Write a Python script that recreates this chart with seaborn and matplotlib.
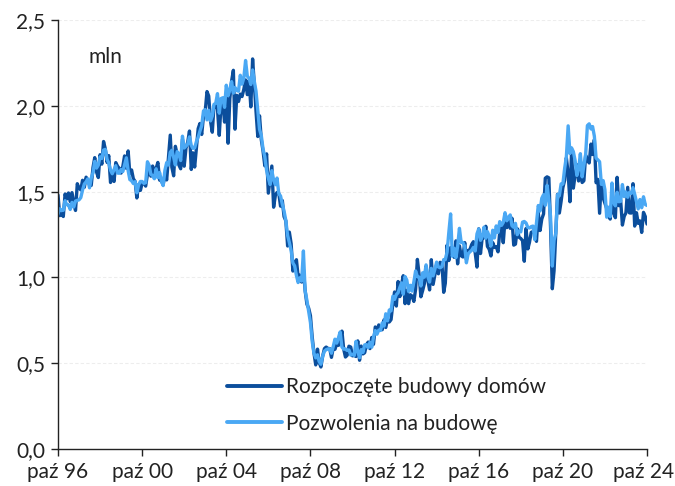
import numpy as np
import pandas as pd
import matplotlib
matplotlib.use("Agg")
import matplotlib.pyplot as plt
import matplotlib.transforms as mtransforms
import seaborn as sns

# Monthly data, Oct 1996 - Oct 2024, in millions (SAAR)
start_month = "1996-10-01"

starts = [
    1.480, 1.360, 1.370,
    1.355, 1.486, 1.457, 1.492, 1.442, 1.494, 1.437, 1.390, 1.546, 1.520, 1.510, 1.566,
    1.525, 1.584, 1.567, 1.540, 1.536, 1.641, 1.698, 1.614, 1.582, 1.715, 1.660, 1.792,
    1.748, 1.670, 1.710, 1.553, 1.611, 1.559, 1.669, 1.648, 1.635, 1.608, 1.648, 1.708,
    1.636, 1.737, 1.604, 1.626, 1.575, 1.559, 1.463, 1.541, 1.507, 1.549, 1.551, 1.532,
    1.600, 1.625, 1.590, 1.649, 1.605, 1.636, 1.670, 1.567, 1.562, 1.540, 1.602, 1.568,
    1.698, 1.829, 1.642, 1.592, 1.764, 1.717, 1.655, 1.633, 1.804, 1.648, 1.753, 1.788,
    1.853, 1.629, 1.726, 1.643, 1.751, 1.867, 1.897, 1.833, 1.939, 1.967, 2.083, 2.057,
    1.911, 1.846, 1.998, 2.003, 1.981, 1.828, 2.002, 2.024, 1.905, 2.072, 1.782, 2.042,
    2.144, 2.207, 1.864, 2.061, 2.025, 2.068, 2.054, 2.095, 2.151, 2.065, 2.147, 1.994,
    2.273, 2.119, 1.969, 1.821, 1.942, 1.802, 1.737, 1.650, 1.720, 1.491, 1.570, 1.649,
    1.409, 1.480, 1.495, 1.490, 1.415, 1.448, 1.354, 1.330, 1.183, 1.264, 1.197, 1.037,
    1.084, 1.103, 1.005, 1.013, 0.973, 1.046, 0.923, 0.844, 0.820, 0.777, 0.652, 0.560,
    0.490, 0.582, 0.505, 0.478, 0.540, 0.585, 0.594, 0.586, 0.585, 0.534, 0.588, 0.581,
    0.614, 0.604, 0.636, 0.687, 0.583, 0.536, 0.546, 0.599, 0.594, 0.543, 0.545, 0.539,
    0.630, 0.517, 0.600, 0.554, 0.561, 0.608, 0.623, 0.585, 0.650, 0.610, 0.711, 0.694,
    0.723, 0.704, 0.695, 0.753, 0.708, 0.757, 0.740, 0.754, 0.847, 0.915, 0.833, 0.976,
    0.888, 0.962, 1.010, 0.847, 0.925, 0.847, 0.899, 0.891, 0.860, 0.931, 1.105, 1.016,
    0.887, 0.924, 0.962, 1.065, 0.984, 0.927, 1.103, 0.959, 1.014, 1.070, 1.021, 1.088,
    1.083, 0.913, 0.966, 1.188, 1.098, 1.174, 1.160, 1.117, 1.213, 1.079, 1.184, 1.126,
    1.119, 1.203, 1.104, 1.157, 1.162, 1.192, 1.208, 1.143, 1.060, 1.283, 1.139, 1.232,
    1.231, 1.298, 1.181, 1.164, 1.125, 1.203, 1.175, 1.179, 1.149, 1.264, 1.303, 1.202,
    1.336, 1.290, 1.327, 1.286, 1.345, 1.188, 1.194, 1.284, 1.234, 1.227, 1.214, 1.094,
    1.285, 1.166, 1.204, 1.263, 1.267, 1.256, 1.210, 1.377, 1.273, 1.340, 1.370, 1.578,
    1.586, 1.580, 1.297, 0.934, 1.038, 1.261, 1.485, 1.375, 1.444, 1.523, 1.566, 1.697,
    1.604, 1.441, 1.733, 1.520, 1.594, 1.657, 1.562, 1.616, 1.553, 1.563, 1.712, 1.684,
    1.667, 1.777, 1.716, 1.803, 1.552, 1.571, 1.374, 1.566, 1.463, 1.432, 1.401, 1.357,
    1.340, 1.436, 1.380, 1.348, 1.583, 1.418, 1.451, 1.305, 1.356, 1.376, 1.525, 1.376,
    1.375, 1.546, 1.299, 1.377, 1.315, 1.329, 1.262, 1.379, 1.355, 1.311,
]

permits = [
    1.370, 1.400, 1.390,
    1.391, 1.447, 1.424, 1.423, 1.396, 1.437, 1.410, 1.445, 1.449, 1.452, 1.465, 1.509,
    1.544, 1.557, 1.574, 1.522, 1.579, 1.610, 1.676, 1.637, 1.655, 1.702, 1.693, 1.742,
    1.746, 1.687, 1.667, 1.625, 1.604, 1.628, 1.651, 1.608, 1.607, 1.629, 1.617, 1.657,
    1.697, 1.622, 1.570, 1.563, 1.547, 1.558, 1.493, 1.540, 1.559, 1.559, 1.548, 1.552,
    1.674, 1.652, 1.601, 1.594, 1.575, 1.633, 1.581, 1.611, 1.560, 1.535, 1.625, 1.669,
    1.655, 1.729, 1.741, 1.700, 1.655, 1.733, 1.720, 1.681, 1.823, 1.754, 1.765, 1.776,
    1.819, 1.769, 1.752, 1.755, 1.791, 1.817, 1.852, 1.884, 1.970, 1.978, 1.918, 1.974,
    1.912, 1.941, 2.008, 2.015, 2.071, 1.957, 2.042, 2.047, 1.991, 2.120, 2.059, 2.091,
    2.141, 2.074, 2.107, 2.089, 2.085, 2.178, 2.126, 2.161, 2.264, 2.173, 2.160, 2.124,
    2.209, 2.140, 2.086, 1.971, 1.863, 1.827, 1.749, 1.703, 1.623, 1.577, 1.541, 1.622,
    1.568, 1.540, 1.579, 1.487, 1.475, 1.426, 1.387, 1.331, 1.244, 1.203, 1.156, 1.085,
    1.067, 1.011, 0.970, 0.998, 0.979, 1.154, 0.922, 0.866, 0.802, 0.737, 0.626, 0.559,
    0.531, 0.549, 0.510, 0.494, 0.540, 0.570, 0.579, 0.583, 0.584, 0.558, 0.597, 0.640,
    0.617, 0.650, 0.682, 0.594, 0.582, 0.583, 0.575, 0.577, 0.547, 0.552, 0.545, 0.627,
    0.567, 0.532, 0.579, 0.563, 0.607, 0.608, 0.590, 0.622, 0.593, 0.652, 0.690, 0.669,
    0.693, 0.691, 0.735, 0.716, 0.788, 0.747, 0.810, 0.805, 0.890, 0.872, 0.900, 0.911,
    0.942, 0.968, 0.902, 1.005, 0.985, 0.918, 0.954, 0.920, 0.974, 1.038, 1.005, 1.002,
    0.950, 1.027, 1.001, 1.073, 1.005, 0.973, 1.053, 1.009, 1.048, 1.089, 1.061, 1.056,
    1.063, 1.104, 1.103, 1.148, 1.262, 1.370, 1.123, 1.170, 1.115, 1.181, 1.286, 1.204,
    1.203, 1.181, 1.085, 1.138, 1.149, 1.158, 1.175, 1.154, 1.254, 1.282, 1.216, 1.238,
    1.293, 1.228, 1.267, 1.240, 1.183, 1.275, 1.230, 1.300, 1.262, 1.325, 1.303, 1.320,
    1.377, 1.330, 1.350, 1.364, 1.301, 1.292, 1.315, 1.249, 1.270, 1.265, 1.322, 1.326,
    1.317, 1.291, 1.288, 1.296, 1.299, 1.220, 1.317, 1.419, 1.387, 1.461, 1.482, 1.420,
    1.536, 1.452, 1.356, 1.066, 1.216, 1.258, 1.483, 1.476, 1.545, 1.544, 1.635, 1.704,
    1.883, 1.722, 1.755, 1.733, 1.683, 1.594, 1.630, 1.721, 1.586, 1.653, 1.717, 1.885,
    1.895, 1.865, 1.879, 1.823, 1.695, 1.685, 1.674, 1.542, 1.564, 1.512, 1.351, 1.409,
    1.354, 1.550, 1.437, 1.417, 1.496, 1.441, 1.443, 1.541, 1.471, 1.498, 1.467, 1.495,
    1.489, 1.523, 1.485, 1.440, 1.399, 1.454, 1.406, 1.470, 1.425, 1.419,
]

series_labels = ["Rozpoczęte budowy domów", "Pozwolenia na budowę"]
tick_years = [1996, 2000, 2004, 2008, 2012, 2016, 2020, 2024]
tick_labels = ["paź 96", "paź 00", "paź 04", "paź 08", "paź 12", "paź 16", "paź 20", "paź 24"]
y_ticks = [0.0, 0.5, 1.0, 1.5, 2.0, 2.5]
y_tick_labels = ["0,0", "0,5", "1,0", "1,5", "2,0", "2,5"]
unit_label = "mln"

colors = ["#0B4E9C", "#4AA8F4"]

dates = pd.date_range(start_month, periods=len(starts), freq="MS")
df = pd.DataFrame({
    "date": np.concatenate([dates, dates]),
    "value": starts + permits,
    "series": [series_labels[0]] * len(starts) + [series_labels[1]] * len(permits),
})

sns.set_theme(style="white")
plt.rcParams["font.family"] = ["Lato", "DejaVu Sans"]

fig = plt.figure(figsize=(6.75, 4.86), dpi=100)
ax = fig.add_axes([58 / 675, 1 - 449 / 486, (647 - 58) / 675, (449 - 20) / 486])

sns.lineplot(data=df, x="date", y="value", hue="series", hue_order=series_labels,
             palette=colors, linewidth=2.4, ax=ax, legend=True)

ax.set_xlim(pd.Timestamp("1996-10-01"), pd.Timestamp("2024-10-01"))
ax.set_ylim(0, 2.5)
ax.set_xticks([pd.Timestamp(f"{y}-10-01") for y in tick_years])
ax.set_xticklabels(tick_labels)
ax.set_yticks(y_ticks)
ax.set_yticklabels(y_tick_labels)
ax.set_xlabel("")
ax.set_ylabel("")

for y in y_ticks[1:]:
    ax.axhline(y, color="#ededed", lw=0.8, ls=(0, (3, 2)), zorder=0)

for s in ["top", "right"]:
    ax.spines[s].set_visible(False)
for s in ["left", "bottom"]:
    ax.spines[s].set_color("#222222")
    ax.spines[s].set_linewidth(1.0)

ax.tick_params(axis="both", which="major", direction="out", length=5, width=1.0,
               color="#222222", labelsize=15, labelcolor="#222222", pad=4,
               left=True, bottom=True)

# keep the last x label inside the figure
last = ax.get_xticklabels()[-1]
last.set_transform(last.get_transform() +
                   mtransforms.ScaledTranslation(-3 / 100, 0, fig.dpi_scale_trans))

ax.text(0.051, 0.914, unit_label, transform=ax.transAxes, fontsize=15,
        color="#222222", va="center", ha="left")

leg = ax.legend(loc="upper left", bbox_to_anchor=(0.287, 0.167), frameon=False,
                fontsize=15, handlelength=2.65, handletextpad=0.2, labelspacing=0.78,
                borderaxespad=0, borderpad=0)
for t in leg.get_texts():
    t.set_color("#222222")
for h in leg.get_lines():
    h.set_linewidth(2.8)

fig.savefig("out.png", dpi=100)
